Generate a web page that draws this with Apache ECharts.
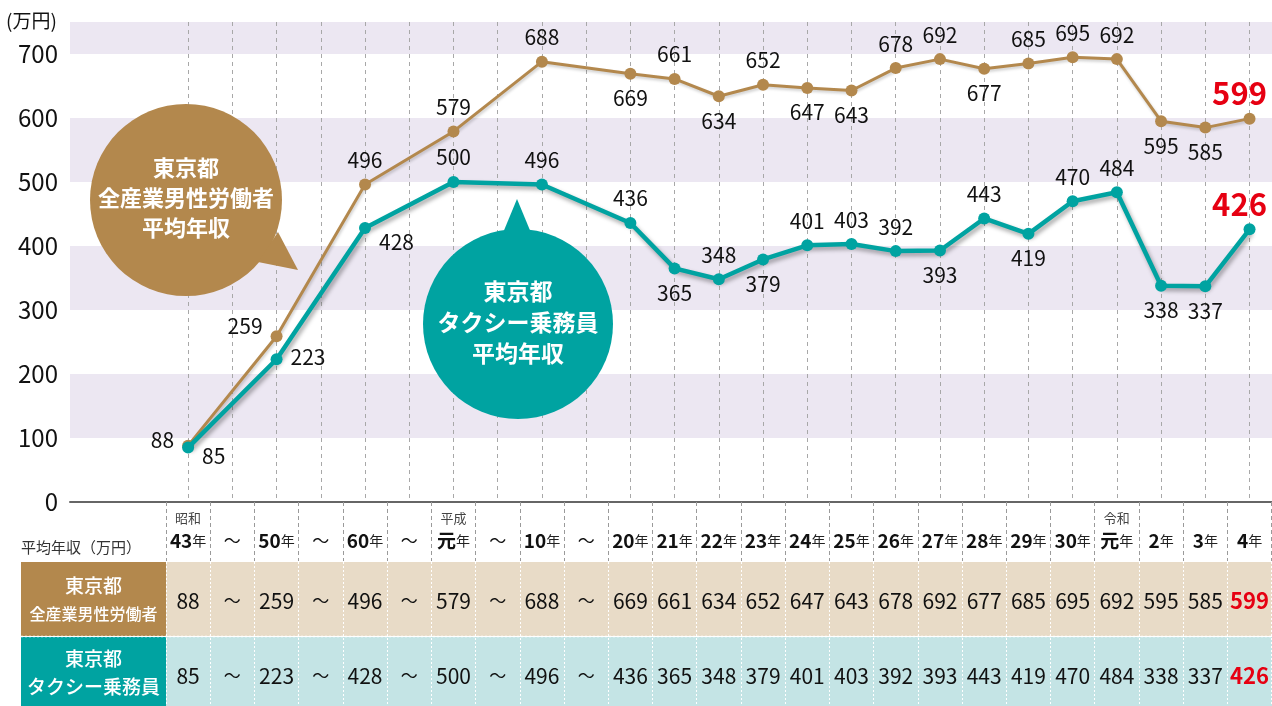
<!DOCTYPE html>
<html lang="ja">
<head>
<meta charset="utf-8">
<title>東京都 タクシー乗務員 平均年収の推移</title>
<script src="https://cdn.jsdelivr.net/npm/echarts@6/dist/echarts.min.js"></script>
<style>
  html, body { margin: 0; padding: 0; background: #ffffff; }
  #chart { width: 1272px; height: 706px; }
</style>
</head>
<body>
<div id="chart"></div>
<script>
// 年次（～ は省略区間）
const years = ['昭和43年', '～', '50年', '～', '60年', '～', '平成元年', '～', '10年', '～',
  '20年', '21年', '22年', '23年', '24年', '25年', '26年', '27年', '28年', '29年',
  '30年', '令和元年', '2年', '3年', '4年'];

// 東京都 全産業男性労働者 平均年収（万円）
const maleWorkers = [88, null, 259, null, 496, null, 579, null, 688, null,
  669, 661, 634, 652, 647, 643, 678, 692, 677, 685, 695, 692, 595, 585, 599];

// 東京都 タクシー乗務員 平均年収（万円）
const taxiDrivers = [85, null, 223, null, 428, null, 500, null, 496, null,
  436, 365, 348, 379, 401, 403, 392, 393, 443, 419, 470, 484, 338, 337, 426];

// 縦軸の目盛り
const yTicks = [0, 100, 200, 300, 400, 500, 600, 700];

// 数値ラベルの配置
const maleLabelPos = ['left', null, 'left', null, 'top', null, 'top', null, 'top', null,
  'bottom', 'top', 'bottom', 'top', 'bottom', 'bottom', 'top', 'top', 'bottom', 'top',
  'top', 'top', 'bottom', 'bottom', 'top'];
const taxiLabelPos = ['right', null, 'right', null, 'right', null, 'top', null, 'top', null,
  'top', 'bottom', 'top', 'bottom', 'top', 'top', 'top', 'bottom', 'top', 'bottom',
  'top', 'top', 'bottom', 'bottom', 'top'];

const FONT = "'Noto Sans CJK JP', 'Noto Sans', sans-serif";
const TAN = '#b3884d';
const TEAL = '#00a3a1';
const RED = '#e60012';
const LAST = years.length - 1;

const labelOffsets = {
  male: { 0: [0, -6], 2: [0, -10] },
  taxi: { 0: [0, 8], 2: [0, -2], 4: [0, 14] }
};

function pointData(values, positions, offsets) {
  return values.map(function (v, i) {
    if (v == null) return null;
    const label = {
      position: positions[i],
      distance: 8,
      offset: offsets[i] || [0, 0]
    };
    if (i === LAST) {
      Object.assign(label, {
        fontSize: 31, fontWeight: 'bold', color: RED, distance: 4, offset: [-10, 0]
      });
    }
    return { value: v, label: label };
  });
}

function yearLabel(v) {
  if (v === '～') return '{era| }\n{tilde|～}';
  const m = v.match(/^(昭和|平成|令和)?(.+)年$/);
  return '{era|' + (m[1] || ' ') + '}\n{num|' + m[2] + '}{nen|年}';
}

function cellLabel(values) {
  return function (v, i) {
    const n = values[i];
    if (n == null) return '{tilde|～}';
    return i === LAST ? '{hl|' + n + '}' : '{v|' + n + '}';
  };
}

const cellRich = {
  v: { fontSize: 21, color: '#111', fontFamily: FONT },
  hl: { fontSize: 22, color: RED, fontWeight: 'bold', fontFamily: FONT },
  tilde: { fontSize: 17, color: '#111', fontFamily: FONT }
};

function tableAxis(values, offset) {
  return {
    gridIndex: 1, type: 'category', data: years, position: 'bottom', offset: offset,
    axisLine: { show: false }, axisTick: { show: false }, splitLine: { show: false },
    axisLabel: {
      interval: 0, margin: 0, verticalAlign: 'middle',
      formatter: cellLabel(values), rich: cellRich
    }
  };
}

// 吹き出し（円＋しっぽ＋3行の見出し）
function bubble(cx, cy, r, tail, color, lines, lineGap, fontSize) {
  const children = [
    { type: 'circle', z: 100, shape: { cx: cx, cy: cy, r: r }, style: { fill: color } },
    { type: 'polygon', z: 100, shape: { points: tail }, style: { fill: color } }
  ];
  lines.forEach(function (t, k) {
    children.push({
      type: 'text', z: 101, x: cx, y: cy - lineGap * (lines.length - 1) / 2 + lineGap * k - 2,
      style: {
        text: t, fill: '#fff', fontSize: fontSize, fontWeight: 'bold', fontFamily: FONT,
        align: 'center', verticalAlign: 'middle'
      }
    });
  });
  return { type: 'group', children: children };
}

function headerCell(y, h, color, l1, l2, size2) {
  return {
    type: 'group', children: [
      { type: 'rect', z: -1, shape: { x: 21, y: y, width: 145, height: h }, style: { fill: color } },
      { type: 'text', z: 1, x: 93.5, y: y + h / 2 - 13, style: { text: l1, fill: '#fff', fontSize: 19, fontWeight: 500, fontFamily: FONT, align: 'center', verticalAlign: 'middle' } },
      { type: 'text', z: 1, x: 93.5, y: y + h / 2 + 15, style: { text: l2, fill: '#fff', fontSize: size2, fontWeight: 500, fontFamily: FONT, align: 'center', verticalAlign: 'middle' } }
    ]
  };
}

const chart = echarts.init(document.getElementById('chart'), null, { renderer: 'canvas' });

chart.setOption({
  backgroundColor: '#ffffff',
  animation: false,
  textStyle: { fontFamily: FONT },
  grid: [
    { left: 70, right: 0, top: 22, bottom: 204 },
    { left: 166, right: 0, top: 22, bottom: 204 }
  ],
  xAxis: [
    {
      gridIndex: 0, type: 'value', min: 0, max: 1,
      axisLine: { show: true, lineStyle: { color: '#666', width: 2 } },
      axisTick: { show: false }, axisLabel: { show: false }, splitLine: { show: false }
    },
    {
      gridIndex: 1, type: 'category', data: years, boundaryGap: true, position: 'bottom',
      axisLine: { show: false },
      axisTick: { show: true, interval: 0, length: 59, lineStyle: { color: '#9a9a9a', type: [4, 3], width: 1 } },
      splitLine: { show: true, interval: 0, alignWithLabel: true, lineStyle: { color: '#a8a8a8', type: [4, 4], width: 1 } },
      axisLabel: {
        interval: 0, margin: 6, formatter: yearLabel,
        rich: {
          era: { fontSize: 13, lineHeight: 20, color: '#444', fontFamily: FONT },
          num: { fontSize: 19, lineHeight: 26, color: '#111', fontWeight: 'bold', fontFamily: FONT },
          nen: { fontSize: 14, lineHeight: 26, color: '#222', fontFamily: FONT },
          tilde: { fontSize: 17, lineHeight: 26, color: '#111', fontFamily: FONT }
        }
      }
    },
    tableAxis(maleWorkers, 99),
    tableAxis(taxiDrivers, 174),
    {
      gridIndex: 1, type: 'category', data: years, position: 'bottom', offset: 60,
      axisLine: { show: false }, axisLabel: { show: false }, splitLine: { show: false },
      axisTick: { show: true, interval: 0, length: 146, lineStyle: { color: '#ffffff', type: [2, 2], width: 1 } }
    }
  ],
  yAxis: [
    {
      gridIndex: 0, type: 'value', min: 0, max: 750, interval: 100,
      axisLine: { show: false }, axisTick: { show: false }, splitLine: { show: false },
      splitArea: { show: true, areaStyle: { color: ['rgba(255,255,255,0)', '#ece7f2'] } },
      axisLabel: {
        margin: 12, fontSize: 24, color: '#111', fontFamily: FONT,
        formatter: function (v) { return yTicks.indexOf(v) >= 0 ? String(v) : ''; }
      }
    },
    {
      gridIndex: 1, type: 'value', min: 0, max: 750, show: false
    }
  ],
  series: [
    {
      name: '東京都 全産業男性労働者 平均年収', type: 'line', xAxisIndex: 1, yAxisIndex: 1,
      data: pointData(maleWorkers, maleLabelPos, labelOffsets.male),
      connectNulls: true, symbol: 'circle', symbolSize: 12,
      itemStyle: { color: TAN },
      lineStyle: { color: TAN, width: 3, shadowColor: 'rgba(0,0,0,0.2)', shadowBlur: 3, shadowOffsetX: 1, shadowOffsetY: 2 },
      label: { show: true, fontSize: 21, color: '#111', fontFamily: FONT },
      z: 3
    },
    {
      name: '東京都 タクシー乗務員 平均年収', type: 'line', xAxisIndex: 1, yAxisIndex: 1,
      data: pointData(taxiDrivers, taxiLabelPos, labelOffsets.taxi),
      connectNulls: true, symbol: 'circle', symbolSize: 12,
      itemStyle: { color: TEAL },
      lineStyle: { color: TEAL, width: 4.5, shadowColor: 'rgba(0,0,0,0.35)', shadowBlur: 4, shadowOffsetX: 2, shadowOffsetY: 3 },
      label: { show: true, fontSize: 21, color: '#111', fontFamily: FONT },
      z: 4
    }
  ],
  graphic: [
    { type: 'text', x: 6, y: 21, style: { text: '(万円)', fontSize: 19, fill: '#111', fontFamily: FONT, verticalAlign: 'middle' } },
    bubble(186, 200, 96, [[258, 262], [278, 232], [298, 270]], TAN,
      ['東京都', '全産業男性労働者', '平均年収'], 30, 22),
    bubble(518, 324, 95, [[500, 240], [534, 240], [517, 199]], TEAL,
      ['東京都', 'タクシー乗務員', '平均年収'], 31, 23),
    { type: 'text', x: 21, y: 547, style: { text: '平均年収（万円）', fontSize: 15, fill: '#333', fontFamily: FONT, verticalAlign: 'middle' } },
    { type: 'rect', z: -2, shape: { x: 166, y: 562, width: 1106, height: 74 }, style: { fill: '#e8dbc7' } },
    { type: 'rect', z: -2, shape: { x: 166, y: 637, width: 1106, height: 69 }, style: { fill: '#c4e4e5' } },
    headerCell(562, 74, TAN, '東京都', '全産業男性労働者', 16),
    headerCell(637, 69, TEAL, '東京都', 'タクシー乗務員', 19),
    { type: 'line', z: 5, shape: { x1: 21, y1: 636.5, x2: 1272, y2: 636.5 }, style: { stroke: '#ffffff', lineWidth: 1.5, lineDash: [2, 2] } }
  ]
});
</script>
</body>
</html>
